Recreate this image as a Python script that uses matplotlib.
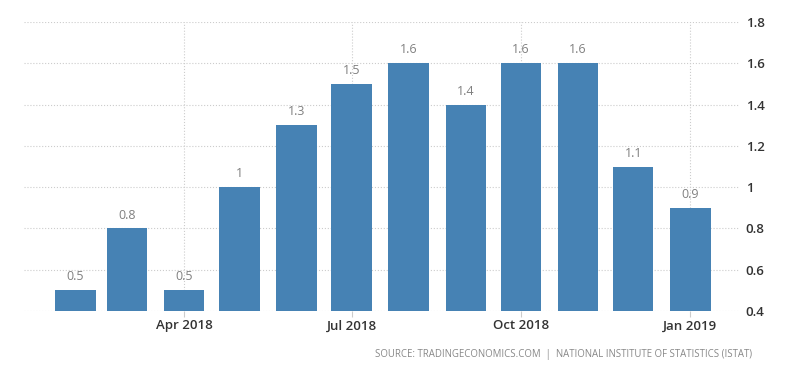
import numpy as np
import pandas as pd
import matplotlib
matplotlib.use("Agg")
import matplotlib.pyplot as plt
import matplotlib.dates as mdates

# Monthly values, Feb 2018 - Jan 2019
months = pd.date_range("2018-02-01", "2019-01-01", freq="MS")
values = [0.5, 0.8, 0.5, 1.0, 1.3, 1.5, 1.6, 1.4, 1.6, 1.6, 1.1, 0.9]
labels = ["0.5", "0.8", "0.5", "1", "1.3", "1.5", "1.6", "1.4", "1.6", "1.6", "1.1", "0.9"]
tick_dates = pd.to_datetime(["2018-04-01", "2018-07-01", "2018-10-01", "2019-01-01"])
tick_labels = ["Apr 2018", "Jul 2018", "Oct 2018", "Jan 2019"]
yticks = [0.4, 0.6, 0.8, 1.0, 1.2, 1.4, 1.6, 1.8]
ytick_labels = ["0.4", "0.6", "0.8", "1", "1.2", "1.4", "1.6", "1.8"]

plt.rcParams['font.family'] = ['Open Sans', 'DejaVu Sans']

fig = plt.figure(figsize=(8, 3.73), dpi=100)
ax = fig.add_axes([0.03, 0.166, 0.895, 0.775])

bar_color = "#4682b4"
ax.bar(months, values, width=22, color=bar_color, zorder=2)

for d, v, lab in zip(months, values, labels):
    ax.annotate(lab, (d, v), xytext=(0, 5), textcoords="offset points",
                ha="center", va="bottom", fontsize=9, color="#808080")

ax.set_ylim(0.4, 1.8)
ax.set_xlim(pd.Timestamp("2018-01-04"), pd.Timestamp("2019-01-28"))
ax.set_yticks(yticks)
ax.set_yticklabels(ytick_labels)
ax.set_xticks(tick_dates)
ax.set_xticklabels(tick_labels)

ax.yaxis.tick_right()
ax.tick_params(axis="y", length=0, pad=4, labelsize=9.5, labelcolor="#333333")
ax.tick_params(axis="x", length=4, color="#cccccc", pad=2, labelsize=9.5, labelcolor="#333333")
for lab in ax.get_xticklabels() + ax.get_yticklabels():
    lab.set_fontweight("semibold")
for s in ax.spines.values():
    s.set_visible(False)

ax.grid(True, axis="both", linestyle=":", color="#cccccc", linewidth=0.8, zorder=0)
ax.set_axisbelow(True)

fig.text(0.94, 0.035, "SOURCE: TRADINGECONOMICS.COM  |  NATIONAL INSTITUTE OF STATISTICS (ISTAT)",
         ha="right", va="bottom", fontsize=6.9, color="#888888")

fig.savefig("out.png", dpi=100)
